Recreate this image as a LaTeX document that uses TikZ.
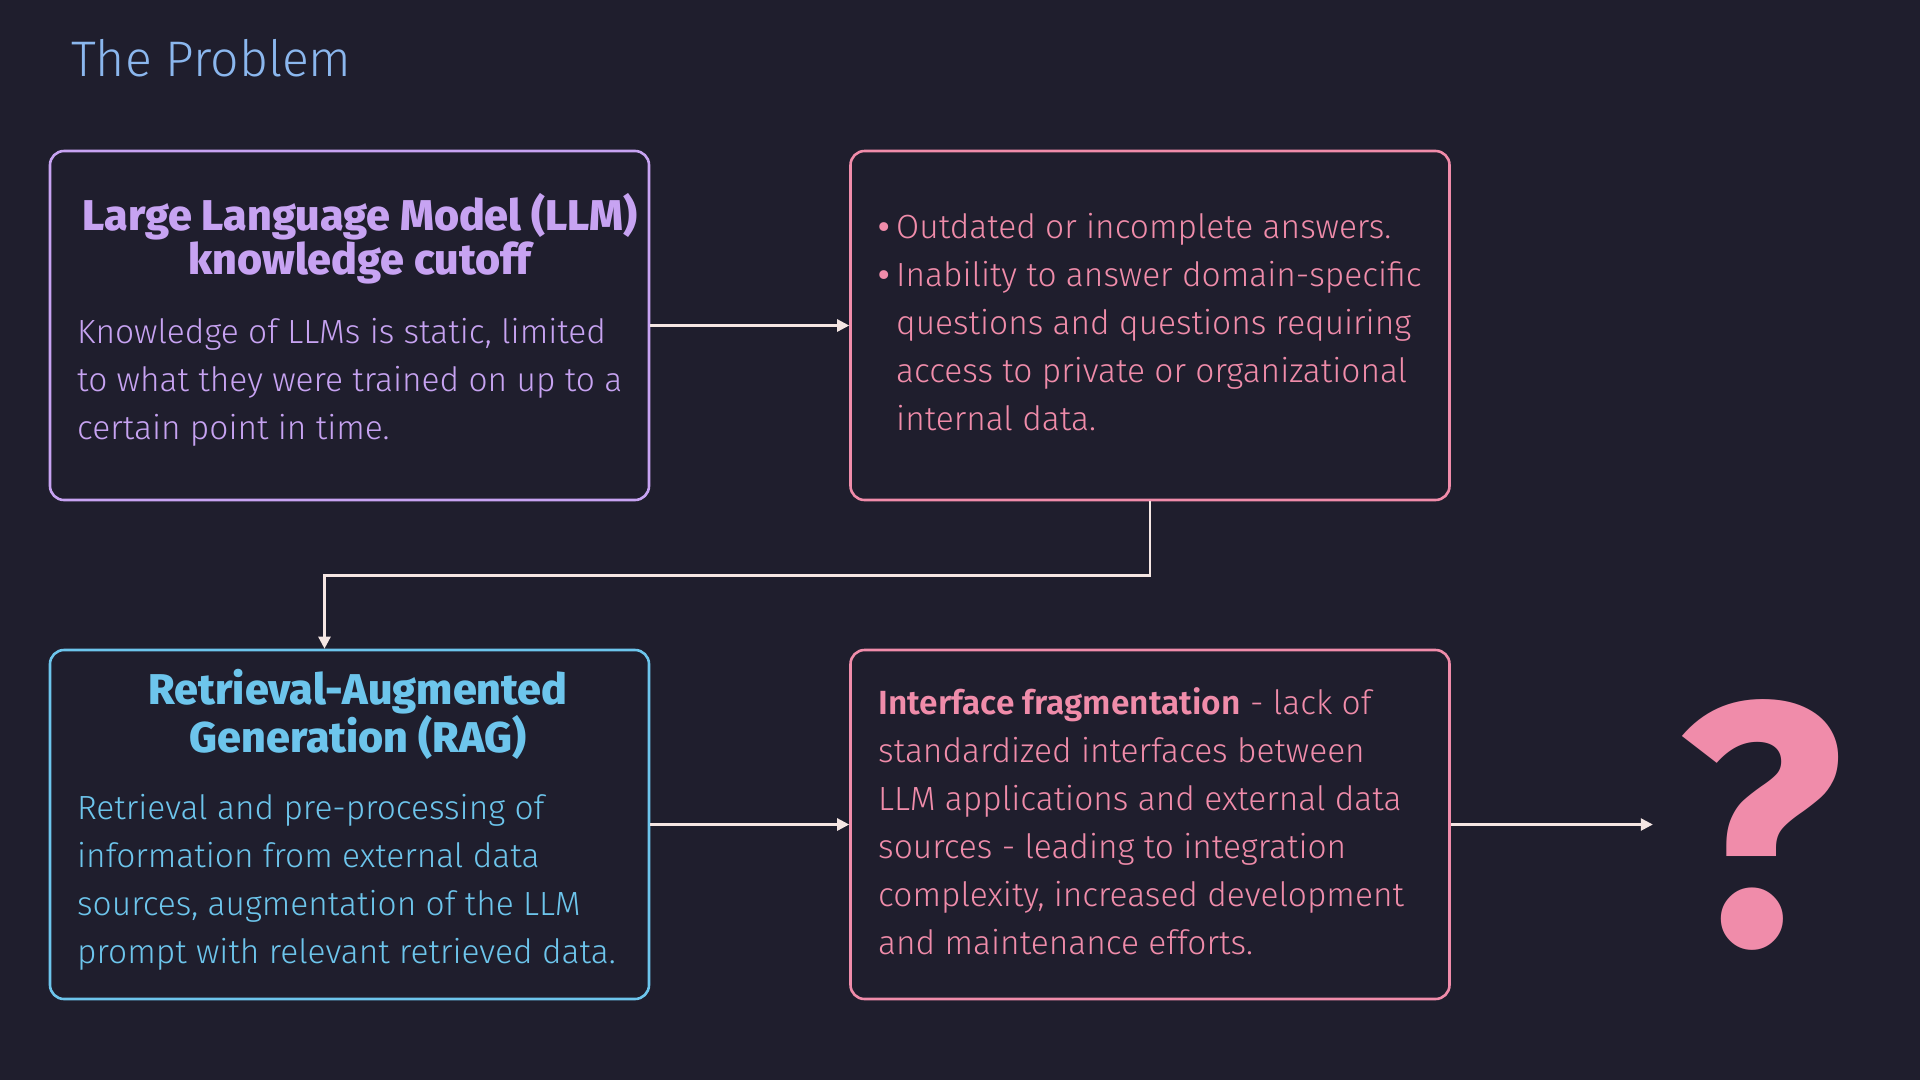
\documentclass[tikz,border=0pt]{standalone}
\usepackage{fontspec}
\setmainfont{Fira Sans Light}[BoldFont={Fira Sans SemiBold}]
\newfontfamily\headfont{Fira Sans ExtraBold}
\newfontfamily\qfont{Fira Sans Bold}
\usetikzlibrary{arrows.meta}

\definecolor{bgnavy}{HTML}{1F1E2D}
\definecolor{llmviolet}{HTML}{C7A3F2}
\definecolor{gappink}{HTML}{F08CAA}
\definecolor{ragblue}{HTML}{6DC5EC}
\definecolor{titleblue}{HTML}{8BB7EE}
\definecolor{flowwhite}{HTML}{F5E6E3}

\begin{document}
\begin{tikzpicture}[x=1pt,y=-1pt,
	panel/.style={draw, line width=2.6pt, rounded corners=14pt,
		minimum width=599pt, minimum height=349pt, inner sep=0pt},
	head/.style={font=\headfont\fontsize{43}{44}\selectfont, align=center, inner sep=0pt, anchor=base},
	body/.style={font=\fontsize{33.5}{48}\selectfont, align=left, inner sep=0pt, anchor=base west},
	flow/.style={draw=flowwhite, line width=2.4pt, -{Triangle[length=12pt,width=12pt]}}]
%
	\fill[bgnavy] (0,0) rectangle (1920,1080);
	\node[anchor=base west, inner sep=0pt, text=titleblue, font=\fontsize{50}{50}\selectfont] (title) at (71,76) {The Problem};
%
	\node[panel, draw=llmviolet] (llm) at (349.5,325.5) {};
	\node[panel, draw=gappink] (gaps) at (1150,325.5) {};
	\node[panel, draw=ragblue] (rag) at (349.5,824.5) {};
	\node[panel, draw=gappink] (frag) at (1150,824.5) {};
%
	% base anchor of a multi-line node = last line
	\node[head, text=llmviolet] (llmhead) at (360,274) {Large Language Model (LLM)\\knowledge cutoff};
	\node[body, text=llmviolet] (llmtext) at (77,439) {Knowledge of LLMs is static, limited\\to what they were trained on up to a\\certain point in time.};
	\node[body, text=gappink] (gapstext) at (878,430) {\makebox[18pt][l]{\bfseries •}Outdated or incomplete answers.\\\makebox[18pt][l]{\bfseries •}Inability to answer domain-specific\\\hspace*{18pt}questions and questions requiring\\\hspace*{18pt}access to private or organizational\\\hspace*{18pt}internal data.};
	\node[head, text=ragblue] (raghead) at (358,752) {Retrieval-Augmented\\Generation (RAG)};
	\node[body, text=ragblue] (ragtext) at (77,963) {Retrieval and pre-processing of\\information from external data\\sources, augmentation of the LLM\\prompt with relevant retrieved data.};
	\node[body, text=gappink] (fragtext) at (878,954) {\textbf{Interface fragmentation} - lack of\\standardized interfaces between\\LLM applications and external data\\sources - leading to integration\\complexity, increased development\\and maintenance efforts.};
	\node[inner sep=0pt, text=gappink, font=\qfont\fontsize{345}{345}\selectfont] (qmark) at (1760,824.5) {?};
%
	\draw[flow] (llm.east) -- (gaps.west);
	\draw[flow] (gaps.south) -- ++(0,74) -| ([xshift=-25pt]rag.north);
	\draw[flow] (rag.east) -- (frag.west);
	\draw[flow] (frag.east) -- ([xshift=-24pt]qmark.west);
\end{tikzpicture}
\end{document}
